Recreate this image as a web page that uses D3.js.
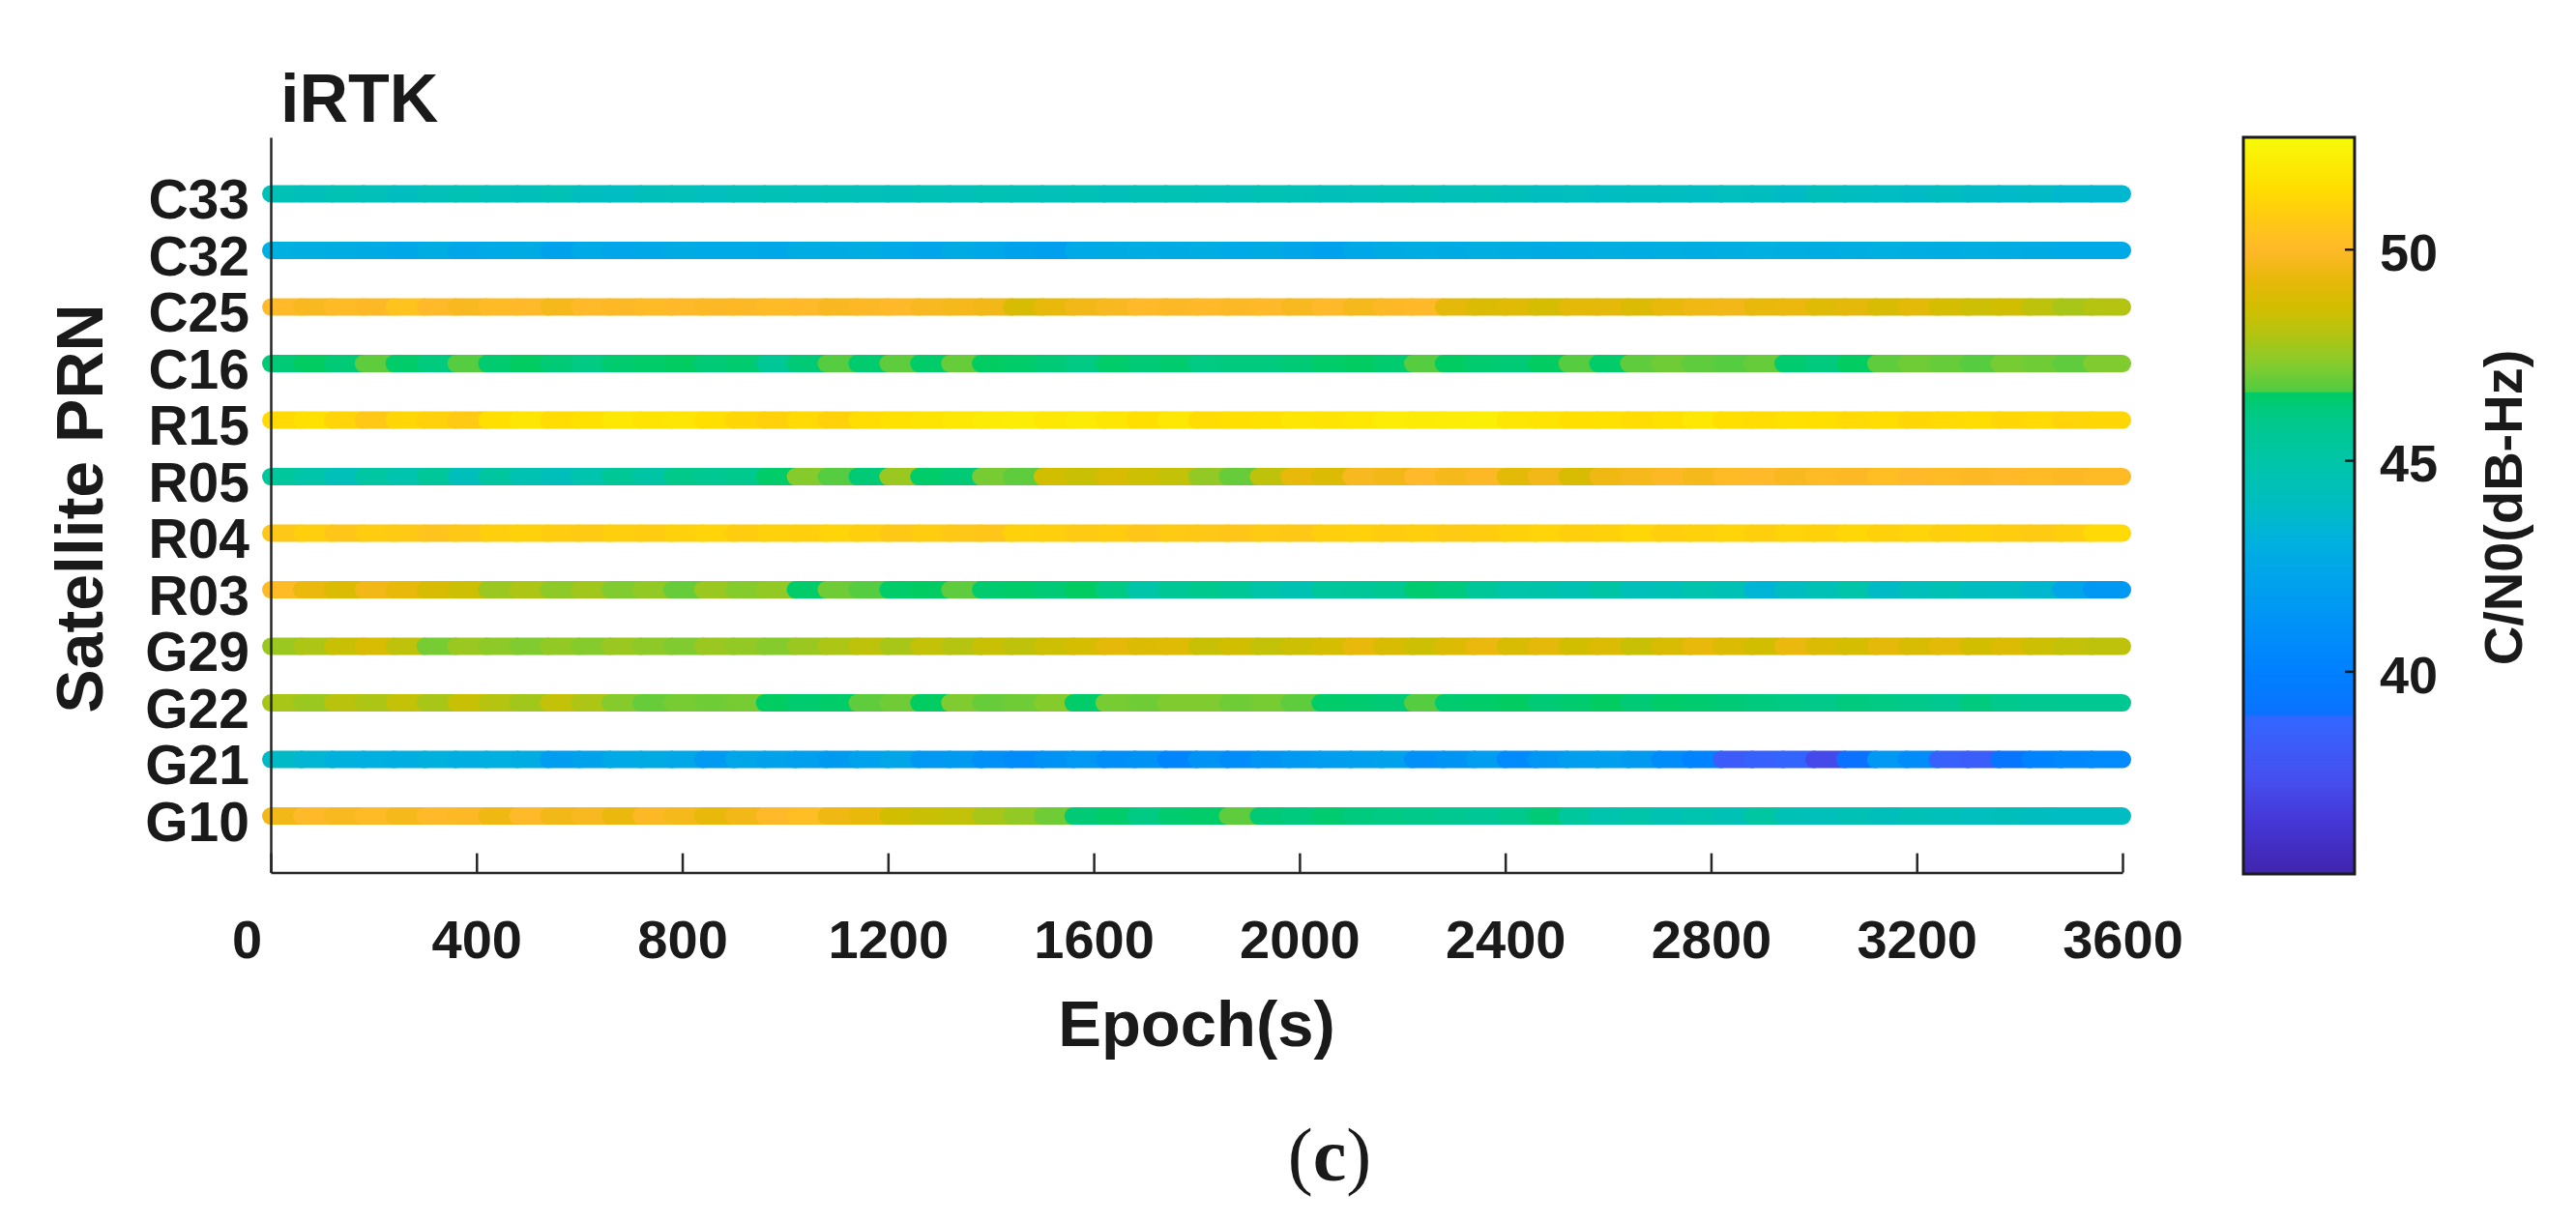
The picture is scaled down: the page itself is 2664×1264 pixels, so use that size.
<html>
<head>
<script src="https://d3js.org/d3.v7.min.js"></script>
<style>
body { margin: 0; background: #fff; }
text { font-family: "Liberation Sans", Arial, sans-serif; font-weight: bold; fill: #1a1a1a; }
</style>
</head>
<body>
<div id="chart"></div>
<script>
// satellites, bottom to top
const prns = ["G10", "G21", "G22", "G29", "R03", "R04", "R05", "R15", "C16", "C25", "C32", "C33"];
// centre of each 60 s bin
const epochs = d3.range(30, 3600, 60);
const xTicks = [0, 400, 800, 1200, 1600, 2000, 2400, 2800, 3200, 3600];
const cbTicks = [40, 45, 50];
const cbDomain = [35.2, 52.65];

// colour map
const cbValues = [35.2, 36.5, 37.5, 38.9, 39.0, 40.0, 41.0, 42.0, 43.0, 44.0, 45.0, 46.0, 46.6, 46.62, 47.2, 48.0, 48.6, 49.3, 50.0, 50.8, 51.5, 52.65];
const cbColors = ["#4124ad", "#4538d8", "#4650f0", "#3366ff", "#0a72ff", "#0080ff", "#0090f8", "#00a0ee", "#00b0e0", "#00bec0", "#00c5a8", "#00c98a", "#00cc62", "#4fcc42", "#80cc30", "#b4c410", "#d2be00", "#e8b80a", "#ffb929", "#ffcc10", "#ffdf00", "#f8fa0a"];

// C/N0 (dB-Hz), one value per 60 s bin
const cnoC33 = [44.4, 44.2, 44.5, 44.3, 44.0, 44.3, 44.5, 44.3, 44.2, 44.4, 44.0, 43.9, 44.2, 44.3, 44.1,
  44.3, 44.4, 44.3, 44.4, 44.3, 44.2, 44.4, 44.3, 44.5, 44.4, 44.3, 44.4, 44.2, 44.4, 44.5,
  44.4, 44.3, 44.5, 44.4, 44.2, 44.3, 44.4, 44.5, 44.3, 44.4, 44.2, 44.0, 44.1, 43.9, 44.0,
  44.0, 43.9, 44.1, 44.0, 43.8, 44.2, 44.0, 43.9, 43.8, 44.0, 43.8, 43.7, 43.8, 43.6, 43.5];
const cnoC32 = [43.0, 42.9, 42.8, 42.7, 42.5, 42.8, 42.4, 42.6, 42.7, 42.2, 42.6, 42.3, 42.5, 42.7, 42.6,
  42.6, 42.5, 42.8, 42.7, 42.8, 42.6, 42.3, 42.7, 42.5, 42.2, 42.0, 42.6, 42.7, 42.8, 42.7,
  42.8, 42.6, 42.7, 42.4, 42.1, 42.5, 42.7, 42.8, 42.7, 42.9, 42.8, 42.7, 42.8, 42.9, 42.8,
  42.9, 42.8, 42.9, 43.0, 42.9, 42.8, 42.9, 43.0, 42.9, 42.8, 42.9, 42.8, 42.7, 42.6, 42.6];
const cnoC25 = [50.0, 49.8, 50.1, 49.9, 50.4, 50.0, 49.8, 50.1, 50.0, 49.7, 50.0, 49.9, 50.1, 50.0, 49.9,
  49.9, 50.1, 50.0, 49.8, 49.9, 50.0, 49.8, 49.7, 49.6, 48.8, 49.3, 49.6, 49.8, 50.0, 49.9,
  50.0, 49.9, 50.0, 49.8, 50.0, 49.7, 49.9, 50.0, 49.2, 48.9, 49.0, 48.7, 49.1, 49.2, 48.9,
  49.3, 49.5, 49.6, 49.3, 49.4, 49.0, 49.2, 48.8, 49.1, 48.7, 48.5, 48.6, 48.2, 47.8, 48.0];
const cnoC16 = [46.3, 46.6, 46.3, 46.8, 46.5, 46.2, 46.7, 46.4, 46.6, 46.3, 46.1, 46.4, 46.5, 46.6, 46.3,
  46.4, 45.6, 46.3, 46.7, 46.4, 46.8, 46.5, 46.9, 46.6, 46.5, 46.3, 46.1, 46.5, 46.3, 46.4,
  46.1, 46.2, 46.2, 46.3, 46.5, 46.6, 46.4, 46.7, 46.6, 46.4, 46.3, 46.6, 46.7, 46.5, 46.8,
  47.0, 46.8, 46.7, 46.9, 46.4, 46.2, 46.6, 46.8, 47.0, 46.9, 46.7, 47.1, 47.0, 46.8, 47.2];
const cnoR15 = [51.3, 51.6, 51.1, 50.6, 51.2, 51.0, 50.7, 51.5, 51.8, 51.4, 51.6, 51.9, 51.7, 51.8, 51.5,
  51.2, 51.0, 51.3, 51.0, 51.4, 51.6, 51.7, 51.9, 52.0, 52.1, 51.9, 52.0, 51.8, 51.5, 51.9,
  51.4, 51.5, 51.6, 51.8, 51.7, 51.9, 52.1, 52.0, 52.1, 52.2, 51.8, 51.7, 51.5, 51.6, 51.4,
  51.6, 51.9, 51.5, 51.4, 51.6, 51.5, 51.3, 51.4, 51.2, 51.3, 51.4, 51.2, 51.3, 51.1, 51.2];
const cnoR05 = [45.4, 45.0, 44.3, 45.2, 44.8, 45.5, 44.2, 45.3, 44.6, 44.2, 44.8, 45.6, 45.1, 46.0, 45.7,
  45.9, 46.5, 47.3, 46.7, 46.3, 47.6, 46.5, 46.3, 47.1, 46.8, 48.6, 48.4, 48.8, 48.5, 48.3,
  47.5, 46.9, 48.2, 49.3, 48.9, 49.8, 49.6, 50.0, 49.7, 49.9, 49.1, 49.6, 48.8, 49.5, 49.7,
  49.9, 49.7, 50.1, 50.0, 49.8, 50.1, 49.9, 50.2, 50.0, 50.1, 49.9, 50.0, 50.1, 49.9, 50.1];
const cnoR04 = [50.6, 50.9, 50.5, 50.8, 50.7, 50.4, 50.6, 50.9, 51.0, 50.8, 50.7, 50.9, 50.8, 51.0, 51.1,
  50.8, 51.0, 50.9, 51.1, 50.9, 50.6, 50.8, 50.6, 50.5, 51.0, 50.9, 50.7, 50.8, 50.5, 50.7,
  50.6, 50.5, 50.7, 50.6, 50.9, 51.0, 50.8, 50.9, 50.7, 50.8, 51.0, 51.1, 50.9, 51.0, 51.2,
  50.9, 51.0, 51.1, 50.9, 51.1, 51.0, 51.2, 51.0, 51.1, 50.9, 51.0, 50.8, 50.7, 50.9, 51.3];
const cnoR03 = [50.1, 49.4, 48.9, 49.6, 49.3, 48.8, 48.5, 47.6, 47.9, 47.4, 47.7, 47.2, 47.5, 46.9, 47.6,
  47.3, 47.5, 46.5, 47.0, 46.7, 46.5, 46.6, 46.8, 46.4, 46.5, 46.3, 46.6, 46.1, 45.0, 45.6,
  45.9, 45.6, 45.0, 44.6, 45.4, 45.5, 45.7, 46.4, 46.2, 45.5, 45.0, 44.9, 44.6, 45.1, 44.3,
  44.4, 44.8, 44.5, 43.3, 44.0, 44.4, 45.0, 43.8, 44.3, 44.5, 44.0, 43.9, 43.6, 42.4, 41.5];
const cnoG29 = [47.6, 47.9, 48.4, 48.8, 48.2, 47.1, 47.6, 47.4, 47.2, 47.5, 47.3, 47.6, 47.4, 47.2, 47.6,
  47.5, 47.3, 47.6, 47.9, 48.2, 47.8, 48.3, 48.0, 48.4, 48.2, 48.5, 48.7, 49.2, 48.9, 49.0,
  48.4, 48.6, 48.3, 48.5, 48.7, 49.3, 48.8, 48.5, 48.9, 49.4, 48.8, 49.2, 48.6, 48.9, 48.4,
  48.8, 49.3, 48.9, 48.6, 49.4, 48.9, 48.7, 49.2, 48.8, 49.1, 48.6, 48.9, 48.5, 48.3, 48.2];
const cnoG22 = [47.8, 47.6, 48.1, 47.9, 48.3, 47.8, 48.4, 48.0, 47.7, 48.3, 47.9, 47.3, 46.9, 47.1, 47.0,
  47.1, 46.6, 46.4, 46.5, 46.8, 47.0, 46.6, 47.2, 46.9, 47.0, 47.3, 46.5, 47.1, 47.0, 47.2,
  47.2, 47.0, 47.1, 46.8, 46.5, 46.4, 46.3, 46.7, 46.4, 46.5, 46.6, 46.3, 46.4, 46.6, 46.3,
  46.5, 46.4, 46.3, 46.2, 46.1, 46.0, 46.2, 46.1, 46.0, 45.8, 46.2, 45.9, 45.8, 45.7, 45.7];
const cnoG21 = [43.8, 43.4, 43.1, 43.0, 42.9, 43.1, 42.9, 43.0, 42.8, 41.8, 42.2, 42.6, 42.7, 42.5, 41.6,
  42.4, 42.2, 42.0, 41.7, 42.1, 42.4, 41.5, 41.7, 41.0, 40.7, 41.2, 41.5, 40.9, 41.2, 40.3,
  41.2, 40.8, 41.3, 41.6, 41.8, 42.0, 42.2, 41.0, 41.3, 41.8, 40.6, 41.4, 41.9, 42.0, 41.7,
  40.8, 40.2, 38.2, 38.6, 38.8, 37.2, 39.0, 41.5, 40.8, 38.5, 38.3, 39.2, 40.2, 40.5, 40.6];
const cnoG10 = [49.6, 50.0, 49.8, 50.1, 49.7, 50.0, 49.9, 49.5, 50.0, 49.6, 49.8, 49.4, 49.9, 49.7, 49.3,
  49.6, 50.0, 50.2, 49.5, 49.3, 48.6, 48.4, 48.3, 47.8, 47.5, 47.0, 46.3, 46.5, 46.1, 46.4,
  46.5, 46.8, 46.3, 46.2, 46.4, 46.2, 46.1, 46.0, 45.8, 45.6, 45.9, 46.3, 45.4, 44.8, 45.0,
  44.6, 44.8, 44.5, 45.2, 44.4, 44.3, 44.5, 44.2, 44.4, 44.3, 44.1, 44.2, 44.0, 43.9, 43.9];

const series = {
  G10: cnoG10, G21: cnoG21, G22: cnoG22, G29: cnoG29, R03: cnoR03, R04: cnoR04,
  R05: cnoR05, R15: cnoR15, C16: cnoC16, C25: cnoC25, C32: cnoC32, C33: cnoC33
};

const svg = d3.select("#chart")
  .append("svg")
  .attr("width", 2664)
  .attr("height", 1264);

const margin = { top: 142, bottom: 361, left: 280, right: 469 };
const width = 2664 - margin.left - margin.right;
const plotBottom = 902.6;
const r = 9;        // half thickness of a satellite track
const binHalf = 30; // seconds

const xScale = d3.scaleLinear()
  .domain([0, 3600])
  .range([margin.left, margin.left + width]);

const yScale = d3.scalePoint()
  .domain(prns)
  .range([plotBottom, margin.top])
  .padding(1);

const color = d3.scaleLinear()
  .domain(cbValues)
  .range(cbColors)
  .clamp(true);

// tracks: one rounded segment per bin, drawn left to right so edges overlap like markers
prns.forEach(prn => {
  svg.append("g")
    .selectAll("rect")
    .data(series[prn].map((v, i) => ({ t: epochs[i], v: v })))
    .join("rect")
    .attr("x", d => xScale(d.t - binHalf) - r)
    .attr("y", yScale(prn) - r)
    .attr("width", d => xScale(d.t + binHalf) - xScale(d.t - binHalf) + 2 * r)
    .attr("height", 2 * r)
    .attr("rx", r)
    .attr("fill", d => color(d.v));
});

// axes
const xAxis = svg.append("g")
  .attr("transform", `translate(0,${plotBottom})`)
  .call(d3.axisBottom(xScale).tickValues(xTicks).tickFormat(d3.format("d"))
    .tickSizeInner(-20).tickSizeOuter(0).tickPadding(49));
xAxis.select(".domain").attr("stroke", "#262626").attr("stroke-width", 2.5);
xAxis.selectAll(".tick line").attr("stroke", "#262626").attr("stroke-width", 2.5);
xAxis.selectAll(".tick text")
  .attr("font-size", 56)
  .attr("font-family", "Liberation Sans, Arial, sans-serif")
  .attr("fill", "#1a1a1a");
xAxis.selectAll(".tick text").filter(d => d === 0).attr("dx", -25);

const yAxis = svg.append("g")
  .attr("transform", `translate(${margin.left},0)`)
  .call(d3.axisLeft(yScale).tickSize(0).tickPadding(22));
yAxis.select(".domain").attr("stroke", "#262626").attr("stroke-width", 2.5);
yAxis.selectAll(".tick text")
  .attr("font-size", 57)
  .attr("dy", "0.44em")
  .attr("font-family", "Liberation Sans, Arial, sans-serif")
  .attr("fill", "#1a1a1a");

// titles
svg.append("text")
  .attr("x", 290)
  .attr("y", 126)
  .attr("font-size", 70)
  .text("iRTK");

svg.append("text")
  .attr("transform", "translate(106,526) rotate(-90)")
  .attr("text-anchor", "middle")
  .attr("font-size", 68)
  .text("Satellite PRN");

svg.append("text")
  .attr("x", (xScale(0) + xScale(3600)) / 2)
  .attr("y", 1082)
  .attr("text-anchor", "middle")
  .attr("font-size", 67)
  .text("Epoch(s)");

const panel = svg.append("text")
  .attr("x", 1375)
  .attr("y", 1221)
  .attr("text-anchor", "middle")
  .attr("font-size", 78)
  .style("font-family", "'Liberation Serif', 'Times New Roman', serif")
  .style("font-weight", "normal");
panel.append("tspan").text("(");
panel.append("tspan").style("font-weight", "bold").text("c");
panel.append("tspan").text(")");

// colour bar
const cbLeft = 2320, cbRight = 2435;
const cbScale = d3.scaleLinear()
  .domain(cbDomain)
  .range([904, margin.top]);

const grad = svg.append("defs")
  .append("linearGradient")
  .attr("id", "cbGrad")
  .attr("x1", 0).attr("y1", 1).attr("x2", 0).attr("y2", 0);
grad.selectAll("stop")
  .data(cbValues)
  .join("stop")
  .attr("offset", v => ((v - cbDomain[0]) / (cbDomain[1] - cbDomain[0]) * 100) + "%")
  .attr("stop-color", (v, i) => cbColors[i]);

svg.append("rect")
  .attr("x", cbLeft)
  .attr("y", cbScale(cbDomain[1]))
  .attr("width", cbRight - cbLeft)
  .attr("height", cbScale(cbDomain[0]) - cbScale(cbDomain[1]))
  .attr("fill", "url(#cbGrad)")
  .attr("stroke", "#1a1a1a")
  .attr("stroke-width", 3);

const cAxis = svg.append("g")
  .attr("transform", `translate(${cbRight},0)`)
  .call(d3.axisRight(cbScale).tickValues(cbTicks).tickSizeInner(-10).tickSizeOuter(0).tickPadding(26));
cAxis.select(".domain").remove();
cAxis.selectAll(".tick line").attr("stroke", "#1a1a1a").attr("stroke-width", 2.5);
cAxis.selectAll(".tick text")
  .attr("font-size", 54)
  .attr("dy", "0.4em")
  .attr("font-family", "Liberation Sans, Arial, sans-serif")
  .attr("fill", "#1a1a1a");

svg.append("text")
  .attr("transform", "translate(2608,525) rotate(-90)")
  .attr("text-anchor", "middle")
  .attr("font-size", 56)
  .text("C/N0(dB-Hz)");
</script>
</body>
</html>
